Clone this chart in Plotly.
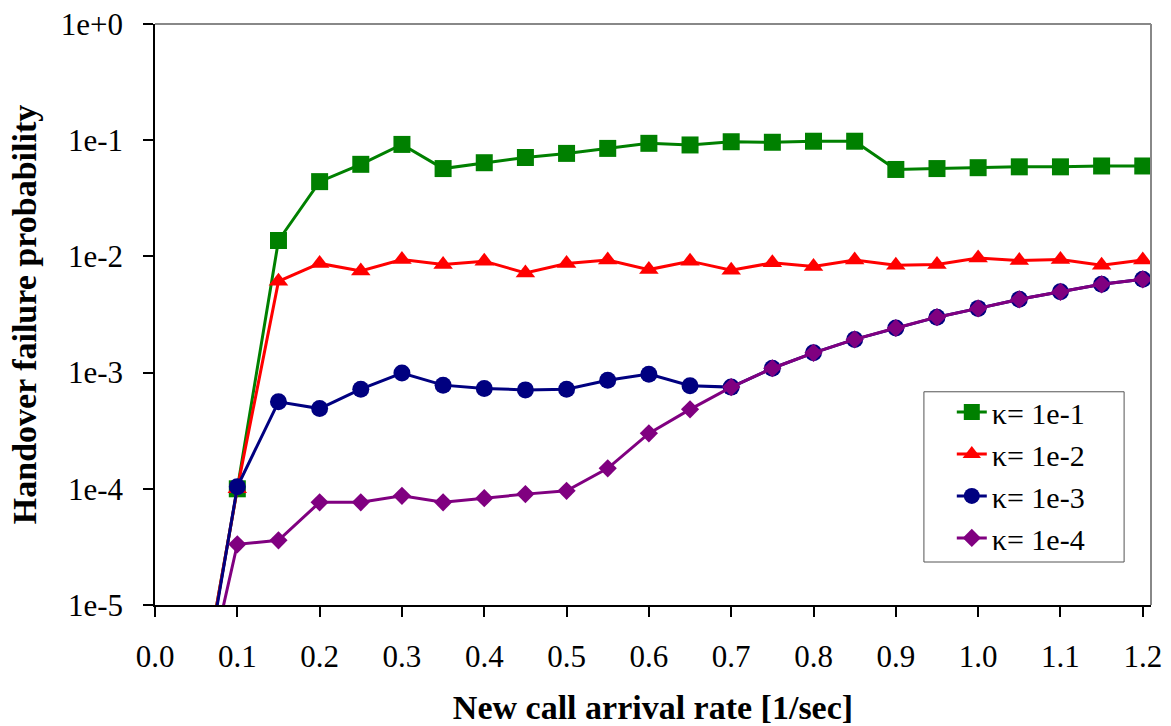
import plotly.graph_objects as go

x = [0.05, 0.10, 0.15, 0.20, 0.25, 0.30, 0.35, 0.40, 0.45, 0.50, 0.55, 0.60, 0.65,
     0.70, 0.75, 0.80, 0.85, 0.90, 0.95, 1.00, 1.05, 1.10, 1.15, 1.20]

k1 = [1.0e-6, 1.0e-4, 0.0137, 0.044, 0.062, 0.092, 0.057, 0.064, 0.071, 0.077, 0.085, 0.094, 0.091,
      0.097, 0.096, 0.098, 0.098, 0.056, 0.057, 0.058, 0.059, 0.059, 0.060, 0.060]
k2 = [1.0e-6, 1.0e-4, 0.0061, 0.0087, 0.0075, 0.0094, 0.0085, 0.0091, 0.0072, 0.0087, 0.0093, 0.0077, 0.0091,
      0.0076, 0.0088, 0.0082, 0.0093, 0.0084, 0.0085, 0.0097, 0.0092, 0.0094, 0.0084, 0.0093]
k3 = [8.5e-7, 1.04e-4, 5.6e-4, 4.9e-4, 7.2e-4, 9.9e-4, 7.8e-4, 7.3e-4, 7.1e-4, 7.2e-4, 8.6e-4, 9.7e-4, 7.7e-4,
      7.5e-4, 1.09e-3, 1.48e-3, 1.93e-3, 2.42e-3, 3.0e-3, 3.57e-3, 4.27e-3, 4.96e-3, 5.75e-3, 6.35e-3]
k4 = [9.0e-7, 3.33e-5, 3.6e-5, 7.65e-5, 7.65e-5, 8.7e-5, 7.65e-5, 8.3e-5, 9.0e-5, 9.6e-5, 1.5e-4, 3.0e-4, 4.83e-4,
      7.5e-4, 1.09e-3, 1.48e-3, 1.93e-3, 2.42e-3, 3.0e-3, 3.57e-3, 4.27e-3, 4.96e-3, 5.75e-3, 6.35e-3]

names = ["κ= 1e-1", "κ= 1e-2", "κ= 1e-3", "κ= 1e-4"]
series = [k1, k2, k3, k4]
colors = ["#008000", "#FF0000", "#000080", "#800080"]
symbols = ["square", "triangle-up", "circle", "diamond"]
msizes = [17, 17, 17, 14]
lwidths = [3, 3, 3, 3]

ytick_vals = [1e-5, 1e-4, 1e-3, 1e-2, 1e-1, 1]
ytick_text = ["1e-5", "1e-4", "1e-3", "1e-2", "1e-1", "1e+0"]

font_family = "Liberation Serif, Times New Roman, serif"

fig = go.Figure()
for nm, ys, c, s, ms, lw in zip(names, series, colors, symbols, msizes, lwidths):
    fig.add_trace(go.Scatter(
        x=x, y=ys, name=nm, mode="lines+markers",
        line=dict(color=c, width=lw),
        marker=dict(symbol=s, size=ms, color=c, line=dict(width=0)),
    ))

fig.update_layout(
    width=1171, height=726,
    margin=dict(l=155, r=20, t=24, b=121, autoexpand=False),
    paper_bgcolor="white", plot_bgcolor="white",
    font=dict(family=font_family, size=30, color="black"),
    showlegend=True,
    legend=dict(
        x=0.80, y=0.377, xanchor="left", yanchor="top",
        bgcolor="rgba(0,0,0,0)", borderwidth=0,
        font=dict(family=font_family, size=30, color="black"),
        tracegroupgap=0,
    ),
)

fig.update_xaxes(
    range=[0, 1.21], dtick=0.1, tick0=0, tickformat=".1f",
    showgrid=False, zeroline=False, automargin=False,
    showline=True, linecolor="black", linewidth=1.5, mirror=False,
    ticks="outside", ticklen=10, tickwidth=1.5, tickcolor="black",
    tickfont=dict(family=font_family, size=31),
    ticklabelstandoff=13,
    title=dict(text="<b>New call arrival rate [1/sec]</b>",
               font=dict(family=font_family, size=34), standoff=24),
)
fig.update_yaxes(
    type="log", range=[-5, 0],
    tickvals=ytick_vals, ticktext=ytick_text,
    showgrid=False, zeroline=False, automargin=False,
    showline=True, linecolor="black", linewidth=1.5,
    ticks="outside", ticklen=10, tickwidth=1.5, tickcolor="black",
    tickfont=dict(family=font_family, size=31),
    ticklabelstandoff=14,
    title=dict(text="<b>Handover failure probability</b>",
               font=dict(family=font_family, size=34), standoff=14),
)

# grey top/right frame
fig.add_shape(type="line", xref="paper", yref="paper", x0=0, x1=1, y0=1, y1=1,
              line=dict(color="#888888", width=2))
fig.add_shape(type="line", xref="paper", yref="paper", x0=1, x1=1, y0=0, y1=1,
              line=dict(color="#888888", width=2))
# legend frame
fig.add_shape(type="rect", xref="paper", yref="paper", x0=0.772, x1=0.973, y0=0.074, y1=0.367,
              line=dict(color="#555555", width=1), fillcolor="white", layer="below")

fig.write_html("out.html")
